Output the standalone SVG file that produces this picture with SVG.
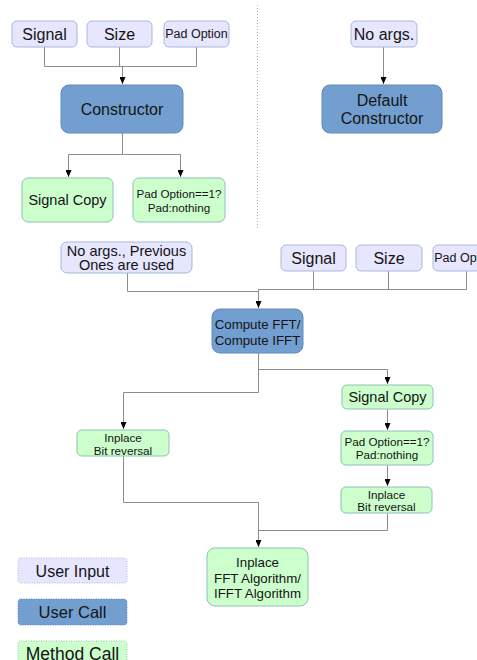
<svg xmlns="http://www.w3.org/2000/svg" width="477" height="660" viewBox="0 0 477 660">
  <style>
    text { font-family: "Liberation Sans", Arial, sans-serif; fill: #141414; text-anchor: middle; dominant-baseline: central; }
    .input { fill: #e6e6ff; stroke: #a7b7e0; stroke-width: 1; }
    .call { fill: #729fcf; stroke: #6289bd; stroke-width: 1; }
    .method { fill: #ccffcc; stroke: #8fc2b2; stroke-width: 1; }
    .legend { stroke-dasharray: 1 1.5; }
    .wire { fill: none; stroke: #8c8c8c; stroke-width: 1; }
    .arrow { fill: none; stroke: #8c8c8c; stroke-width: 1; marker-end: url(#head); }
    .divider { stroke: #b0b0b0; stroke-width: 1; stroke-dasharray: 1 2; }
    .t16 { font-size: 16px; }
    .t14 { font-size: 14.5px; }
    .t13 { font-size: 13.3px; }
    .t12 { font-size: 12.5px; }
    .t11 { font-size: 11.7px; }
  </style>
  <defs>
    <marker id="head" markerUnits="userSpaceOnUse" viewBox="0 0 7 6" refX="7" refY="3" markerWidth="7" markerHeight="6" orient="auto">
      <path d="M0,0 L7,3 L0,6 z" fill="#000"/>
    </marker>
  </defs>

  <rect width="477" height="660" fill="#ffffff"/>

  <!-- separator between the two constructors -->
  <line class="divider" x1="257.5" y1="5" x2="257.5" y2="228"/>

  <g id="connectors">
    <!-- constructor inputs -->
    <path class="wire" d="M44.5,47 V66.5 H196.5 V47 M119.5,47 V66.5"/>
    <path class="arrow" d="M122.5,66.5 V84"/>
    <!-- constructor outputs -->
    <path class="wire" d="M122.5,133 V154.5 H68.5 M122.5,154.5 H180.5"/>
    <path class="arrow" d="M68.5,154.5 V177"/>
    <path class="arrow" d="M180.5,154.5 V177"/>
    <!-- default constructor -->
    <path class="arrow" d="M383.5,47 V84"/>
    <!-- compute inputs -->
    <path class="wire" d="M127.5,273 V291.5 H258.5"/>
    <path class="wire" d="M313.5,271 V289.5 M388.5,271 V289.5 M466.5,271 V289.5 M258.5,289.5 H466.5"/>
    <path class="arrow" d="M258.5,289.5 V308"/>
    <!-- compute outputs -->
    <path class="wire" d="M258.5,353 V392.5 H123.5 M258.5,369.5 H387.5"/>
    <path class="arrow" d="M387.5,369.5 V384"/>
    <path class="arrow" d="M123.5,392.5 V429"/>
    <path class="arrow" d="M387.5,409 V430"/>
    <path class="arrow" d="M387.5,465 V486"/>
    <!-- merge into the FFT algorithm -->
    <path class="wire" d="M123.5,456 V502.5 H258.5 M387.5,513 V530.5 H258.5"/>
    <path class="arrow" d="M258.5,502.5 V547"/>
  </g>

  <g id="signal">
    <rect class="input" x="12" y="21" width="65" height="26" rx="5"/>
    <text class="t16" x="44.5" y="34">Signal</text>
  </g>
  <g id="size">
    <rect class="input" x="87" y="21" width="65" height="26" rx="5"/>
    <text class="t16" x="119.5" y="34">Size</text>
  </g>
  <g id="pad-option">
    <rect class="input" x="164" y="21" width="65" height="26" rx="5"/>
    <text class="t12" x="196.5" y="34">Pad Option</text>
  </g>
  <g id="constructor">
    <rect class="call" x="61" y="85" width="122" height="48" rx="8"/>
    <text class="t16" x="122" y="109">Constructor</text>
  </g>
  <g id="signal-copy">
    <rect class="method" x="22" y="178" width="91" height="44" rx="6"/>
    <text class="t14" x="67.5" y="200">Signal Copy</text>
  </g>
  <g id="pad-check">
    <rect class="method" x="133" y="178" width="92" height="44" rx="6"/>
    <text class="t11" x="179" y="193">Pad Option==1?</text>
    <text class="t11" x="179" y="207">Pad:nothing</text>
  </g>

  <g id="no-args">
    <rect class="input" x="351" y="21" width="66" height="26" rx="5"/>
    <text class="t16" x="384" y="34">No args.</text>
  </g>
  <g id="default-constructor">
    <rect class="call" x="322" y="85" width="120" height="48" rx="8"/>
    <text class="t16" x="382" y="100">Default</text>
    <text class="t16" x="382" y="118">Constructor</text>
  </g>

  <g id="previous-args">
    <rect class="input" x="61" y="242" width="131" height="31" rx="6"/>
    <text class="t14" x="126.5" y="251">No args., Previous</text>
    <text class="t14" x="126.5" y="265">Ones are used</text>
  </g>
  <g id="signal-2">
    <rect class="input" x="281" y="245" width="65" height="26" rx="5"/>
    <text class="t16" x="313.5" y="258">Signal</text>
  </g>
  <g id="size-2">
    <rect class="input" x="356" y="245" width="66" height="26" rx="5"/>
    <text class="t16" x="389" y="258">Size</text>
  </g>
  <g id="pad-option-2">
    <rect class="input" x="433" y="245" width="65" height="26" rx="5"/>
    <text class="t12" x="465.5" y="258">Pad Option</text>
  </g>
  <g id="compute">
    <rect class="call" x="212" y="309" width="91" height="44" rx="8"/>
    <text class="t13" x="257.5" y="324">Compute FFT/</text>
    <text class="t13" x="257.5" y="340">Compute IFFT</text>
  </g>
  <g id="bit-reversal-1">
    <rect class="method" x="77" y="430" width="92" height="26" rx="5"/>
    <text class="t11" x="123" y="437">Inplace</text>
    <text class="t11" x="123" y="450">Bit reversal</text>
  </g>
  <g id="signal-copy-2">
    <rect class="method" x="342" y="385" width="91" height="24" rx="5"/>
    <text class="t14" x="387.5" y="397">Signal Copy</text>
  </g>
  <g id="pad-check-2">
    <rect class="method" x="341" y="431" width="92" height="34" rx="5"/>
    <text class="t11" x="387" y="441">Pad Option==1?</text>
    <text class="t11" x="387" y="454">Pad:nothing</text>
  </g>
  <g id="bit-reversal-2">
    <rect class="method" x="341" y="487" width="91" height="26" rx="5"/>
    <text class="t11" x="386.5" y="494">Inplace</text>
    <text class="t11" x="386.5" y="506">Bit reversal</text>
  </g>
  <g id="fft-algorithm">
    <rect class="method" x="207" y="548" width="101" height="58" rx="8"/>
    <text class="t13" x="257.5" y="562">Inplace</text>
    <text class="t13" x="257.5" y="578">FFT Algorithm/</text>
    <text class="t13" x="257.5" y="593">IFFT Algorithm</text>
  </g>

  <g id="legend-input">
    <rect class="input legend" x="18" y="558" width="109" height="25" rx="3"/>
    <text class="t16" x="72.5" y="571">User Input</text>
  </g>
  <g id="legend-call">
    <rect class="call legend" x="18" y="599" width="109" height="26" rx="3"/>
    <text class="t16" x="72.5" y="612" style="font-size:16.5px">User Call</text>
  </g>
  <g id="legend-method">
    <rect class="method legend" x="18" y="641" width="109" height="26" rx="3"/>
    <text class="t16" x="72.5" y="654" style="font-size:17.5px">Method Call</text>
  </g>
</svg>
